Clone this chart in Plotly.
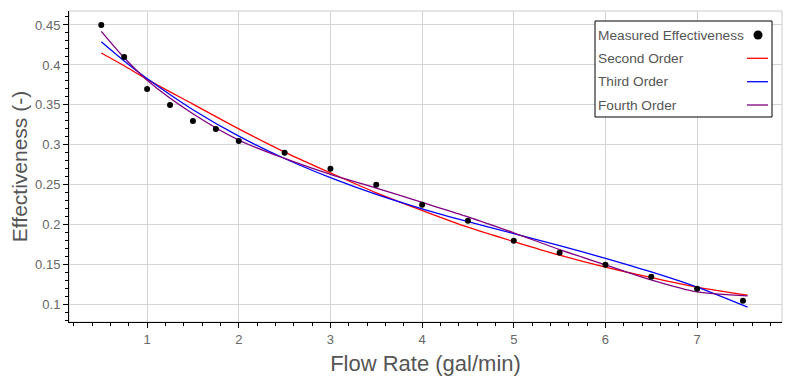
import plotly.graph_objects as go

# Measured data
flow_rate = [0.5, 0.75, 1.0, 1.25, 1.5, 1.75, 2.0, 2.5, 3.0, 3.5, 4.0, 4.5, 5.0, 5.5, 6.0, 6.5, 7.0, 7.5]
effectiveness = [0.45, 0.41, 0.37, 0.35, 0.33, 0.32, 0.305, 0.29, 0.27, 0.25, 0.225, 0.205, 0.18, 0.165, 0.15, 0.135, 0.12, 0.105]

# Fitted curves
fit_x = [0.5, 0.75, 1.0, 1.5, 2.0, 2.5, 3.0, 3.5, 4.0, 4.5, 5.0, 5.5, 6.0, 6.5, 7.0, 7.55]
second_order = [0.415, 0.399, 0.382, 0.351, 0.320, 0.291, 0.265, 0.240, 0.218, 0.197, 0.179, 0.162, 0.147, 0.134, 0.122, 0.112]
third_order = [0.429, 0.405, 0.383, 0.344, 0.311, 0.283, 0.259, 0.238, 0.220, 0.204, 0.189, 0.174, 0.158, 0.141, 0.122, 0.097]
fourth_order = [0.442, 0.409, 0.381, 0.339, 0.306, 0.283, 0.263, 0.246, 0.228, 0.210, 0.190, 0.169, 0.150, 0.131, 0.116, 0.111]

legend_names = ["Measured Effectiveness", "Second Order", "Third Order", "Fourth Order"]
line_colors = ["red", "blue", "purple"]

FONT = "Arial, Liberation Sans, sans-serif"

fig = go.Figure()
for ys, name, col in zip([second_order, third_order, fourth_order], legend_names[1:], line_colors):
    fig.add_trace(go.Scatter(x=fit_x, y=ys, mode="lines", name=name,
                             line=dict(color=col, width=1.3, shape="spline", smoothing=0.8)))
fig.add_trace(go.Scatter(x=flow_rate, y=effectiveness, mode="markers", name=legend_names[0],
                         marker=dict(color="black", size=6)))

axis_common = dict(showline=True, linecolor="black", linewidth=1, ticks="outside",
                   ticklen=5, tickcolor="black", showgrid=True, gridcolor="#d4d4d4",
                   gridwidth=1, zeroline=False, automargin=False,
                   tickfont=dict(family=FONT, size=13, color="#666666"))

fig.update_xaxes(range=[0.148, 7.926], dtick=1, tick0=0,
                 minor=dict(dtick=0.2, tick0=0, ticks="outside", ticklen=3, tickcolor="black", showgrid=False),
                 title=dict(text="Flow Rate (gal/min)", font=dict(family=FONT, size=22, color="#555555"), standoff=10),
                 **axis_common)
fig.update_yaxes(range=[0.0784, 0.4675], dtick=0.05, tick0=0,
                 minor=dict(dtick=0.01, tick0=0, ticks="outside", ticklen=3, tickcolor="black", showgrid=False),
                 title=dict(text="Effectiveness (-)", font=dict(family=FONT, size=21, color="#555555"), standoff=8),
                 **axis_common)

# page body has an 8px margin; compensate so the plot lands at the reference spot
OFF = 8
W, H = 797 - OFF, 388 - OFF
L, T = 69 - OFF, 11 - OFF
R = W - (782 - OFF)
B = H - (322 - OFF)
pw, ph = W - L - R, H - T - B

def px(xp):
    return (xp - OFF - L) / pw

def py(yp):
    return (H - B - (yp - OFF)) / ph

shapes = [
    dict(type="rect", xref="paper", yref="paper", x0=0, x1=1, y0=0, y1=1,
         line=dict(color="#cccccc", width=1), layer="below"),
    dict(type="rect", xref="paper", yref="paper", x0=px(595), x1=px(772), y0=py(117), y1=py(21),
         line=dict(color="black", width=1), fillcolor="white", layer="above"),
    dict(type="circle", xref="paper", yref="paper", xsizemode="pixel", ysizemode="pixel",
         xanchor=px(758), yanchor=py(35), x0=-4.5, x1=4.5, y0=-4.5, y1=4.5,
         fillcolor="black", line=dict(color="black", width=0)),
]
row_y = [35, 58.3, 81.7, 105]
for yy, col in zip(row_y[1:], line_colors):
    shapes.append(dict(type="line", xref="paper", yref="paper", x0=px(747), x1=px(768),
                       y0=py(yy), y1=py(yy), line=dict(color=col, width=1.3)))

annotations = []
for yy, name in zip(row_y, legend_names):
    annotations.append(dict(xref="paper", yref="paper", x=px(596), y=py(yy), text=name,
                            showarrow=False, xanchor="left", yanchor="middle",
                            font=dict(family=FONT, size=13.7, color="#555555")))

fig.update_layout(width=W, height=H, margin=dict(l=L, r=R, t=T, b=B, autoexpand=False),
                  plot_bgcolor="white", paper_bgcolor="white", showlegend=False,
                  shapes=shapes, annotations=annotations)

fig.write_html("out.html")
